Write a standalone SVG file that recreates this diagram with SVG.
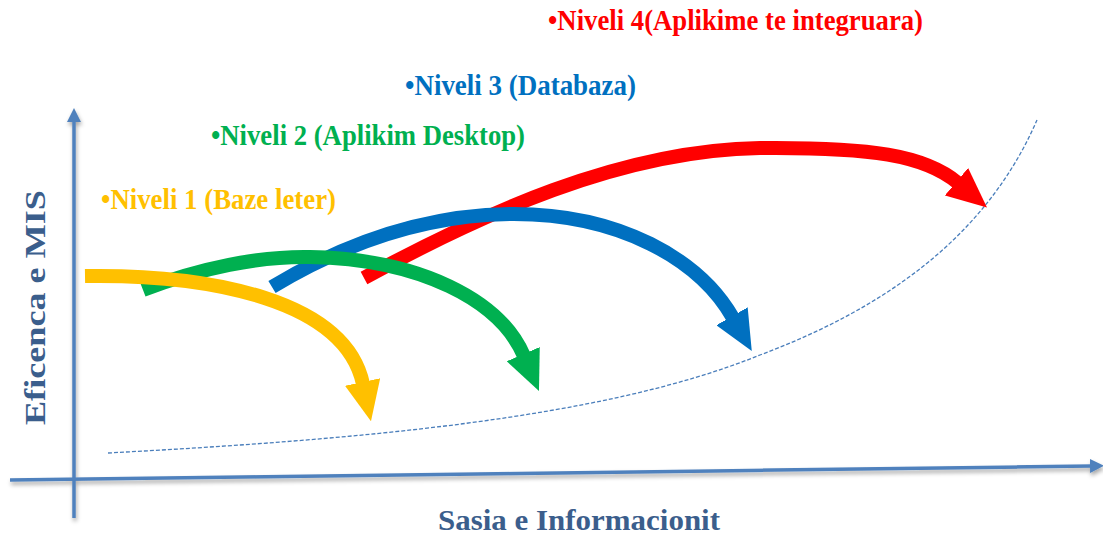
<svg xmlns="http://www.w3.org/2000/svg" width="1103" height="537" viewBox="0 0 1103 537">
<style>
.lvl{font-family:"Liberation Serif","Times New Roman",serif;font-weight:bold;font-size:29px}
.ax{font-family:"Liberation Serif","Times New Roman",serif;font-weight:bold;font-size:30px;fill:#3B5E8C}
.axis{stroke:#4F81BD;stroke-width:3.5;fill:none}
.arc{fill:none;stroke-width:14}
</style>
<defs>
<filter id="sh" x="-5%" y="-50%" width="110%" height="200%">
<feDropShadow dx="1" dy="3" stdDeviation="2" flood-color="#000" flood-opacity="0.35"/>
</filter>
<marker id="axh" markerUnits="userSpaceOnUse" markerWidth="14" markerHeight="14" viewBox="0 0 14 14" refX="2" refY="7" orient="auto"><path d="M0,0 L14,7 L0,14 Z" fill="#4F81BD"/></marker>
<marker id="hy" markerUnits="userSpaceOnUse" markerWidth="40" markerHeight="36" viewBox="0 0 40 36" refX="2" refY="18" orient="auto"><path d="M0,0 L40,18 L0,36 Z" fill="#FFC000"/></marker>
<marker id="hg" markerUnits="userSpaceOnUse" markerWidth="40" markerHeight="36" viewBox="0 0 40 36" refX="2" refY="18" orient="auto"><path d="M0,0 L40,18 L0,36 Z" fill="#00B050"/></marker>
<marker id="hb" markerUnits="userSpaceOnUse" markerWidth="40" markerHeight="36" viewBox="0 0 40 36" refX="2" refY="18" orient="auto"><path d="M0,0 L40,18 L0,36 Z" fill="#0070C0"/></marker>
<marker id="hr" markerUnits="userSpaceOnUse" markerWidth="40" markerHeight="36" viewBox="0 0 40 36" refX="2" refY="18" orient="auto"><path d="M0,0 L40,18 L0,36 Z" fill="#FF0000"/></marker>
</defs>
<rect width="1103" height="537" fill="#fff"/>
<g id="axes" filter="url(#sh)">
<path class="axis" d="M74,518 L74,120" marker-end="url(#axh)"/>
<path class="axis" d="M10,480 L1092,466" marker-end="url(#axh)"/>
</g>
<g id="curve">
<path d="M108,453 C350,440 600,420 760,355 C880,310 985,240 1037,120" fill="none" stroke="#4A7EBB" stroke-width="1.3" stroke-dasharray="4 2"/>
</g>
<g id="connectors">
<path class="arc" stroke="#FF0000" d="M364,278 C480,215 620,150 760,148 C870,147 925,155 958,183" marker-end="url(#hr)"/>
<path class="arc" stroke="#0070C0" d="M272,287 C350,240 430,215 510,214 C620,213 700,260 733,318" marker-end="url(#hb)"/>
<path class="arc" stroke="#00B050" d="M143,290 C200,268 260,256 310,257 C420,259 500,300 524,356" marker-end="url(#hg)"/>
<path class="arc" stroke="#FFC000" d="M85,276 C210,274 345,300 363,384" marker-end="url(#hy)"/>
</g>
<g id="level4"><text class="lvl" x="548" y="30" fill="#FF0000" textLength="375" lengthAdjust="spacingAndGlyphs">•Niveli 4(Aplikime te integruara)</text></g>
<g id="level3"><text class="lvl" x="405" y="95" fill="#0070C0" textLength="231" lengthAdjust="spacingAndGlyphs">•Niveli 3 (Databaza)</text></g>
<g id="level2"><text class="lvl" x="211" y="145" fill="#00B050" textLength="314" lengthAdjust="spacingAndGlyphs">•Niveli 2 (Aplikim Desktop)</text></g>
<g id="level1"><text class="lvl" x="101" y="209" fill="#FFC000" textLength="235" lengthAdjust="spacingAndGlyphs">•Niveli 1 (Baze leter)</text></g>
<g id="ylabel"><text class="ax" transform="translate(45,425) rotate(-90)" x="0" y="0" font-size="32" textLength="235" lengthAdjust="spacingAndGlyphs">Eficenca e MIS</text></g>
<g id="xlabel"><text class="ax" x="438" y="530" textLength="282" lengthAdjust="spacingAndGlyphs">Sasia e Informacionit</text></g>
</svg>
